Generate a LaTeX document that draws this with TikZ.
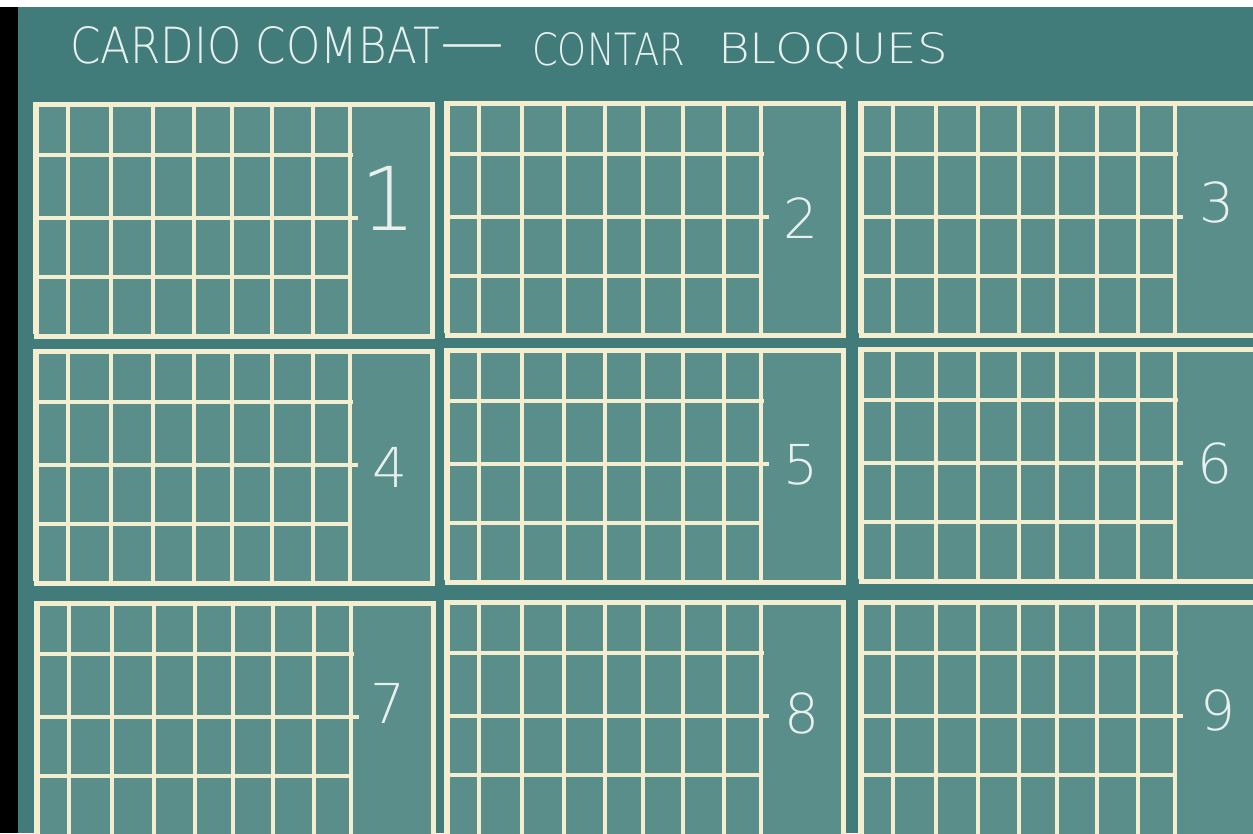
\documentclass[tikz,border=0pt]{standalone}
\usepackage{fontspec}
\newfontfamily\hand{DejaVu Sans ExtraLight}
\definecolor{gapbg}{HTML}{417B7A}
\definecolor{panelbg}{HTML}{598E8A}
\definecolor{chalk}{HTML}{F4EED0}
\definecolor{ink}{HTML}{E8F0EE}
\tikzset{
  panel/.style={draw=chalk, fill=panelbg, line width=4.5pt, anchor=north west, inner sep=0pt},
  gridline/.style={draw=chalk, line width=4pt},
  digit/.style={text=ink, inner sep=0pt, font=\hand\fontsize{55}{60}\selectfont},
  titletext/.style={text=ink, inner sep=0pt, anchor=base west, font=\hand}
}
\begin{document}
\begin{tikzpicture}[x=1pt,y=-1pt]
\useasboundingbox (0,0) rectangle (1253,833);
\fill[gapbg] (0,0) rectangle (1253,833);
\fill[white] (0,0) rectangle (1253,7);
\fill[black] (0,7) rectangle (18,833);
% title
\node[titletext] (t1) at (70,63) {\resizebox{370pt}{37pt}{CARDIO COMBAT}};
\node[text=ink, inner sep=0pt, anchor=north, font=\hand] (tdash) at (472,44) {\resizebox{64pt}{!}{—}};
\node[titletext] (t2) at (532,65) {\resizebox{153pt}{33pt}{CONTAR}};
\node[titletext] (t3) at (718,63) {\resizebox{230pt}{31pt}{BLOQUES}};
% panels
\foreach \L/\T/\W/\H/\n/\nx/\ny/\sz in {
  32/100/396/232/1/388/198/1.6,
  443/99/396/232/2/801/218/1,
  857/99/420/232/3/1217/202/1,
  32/347/396/232/4/390/467/1,
  443/346/396/232/5/801/465/1,
  857/345/420/232/6/1215/463/1,
  33/599/396/250/7/388/703/1,
  443/598/396/250/8/802/713/1,
  857/598/420/250/9/1218/710/1}{
  \node[panel, minimum width=\W pt, minimum height=\H pt] (p\n) at ({\L+2},{\T+2}) {};
  \foreach \o in {3,36,79,121,162,200,240,281,318}{
    \draw[gridline] ({\L+\o},{\T+2}) -- ({\L+\o},{\T+\H+2});
  }
  \draw[gridline] ({\L+2},{\T+55}) -- ({\L+321},{\T+55});
  \draw[gridline] ({\L+2},{\T+118}) -- ({\L+326},{\T+118});
  \draw[gridline] ({\L+2},{\T+177}) -- ({\L+316},{\T+177});
  \node[digit, scale=\sz] (n\n) at (\nx,\ny) {\n};
}
\end{tikzpicture}
\end{document}
